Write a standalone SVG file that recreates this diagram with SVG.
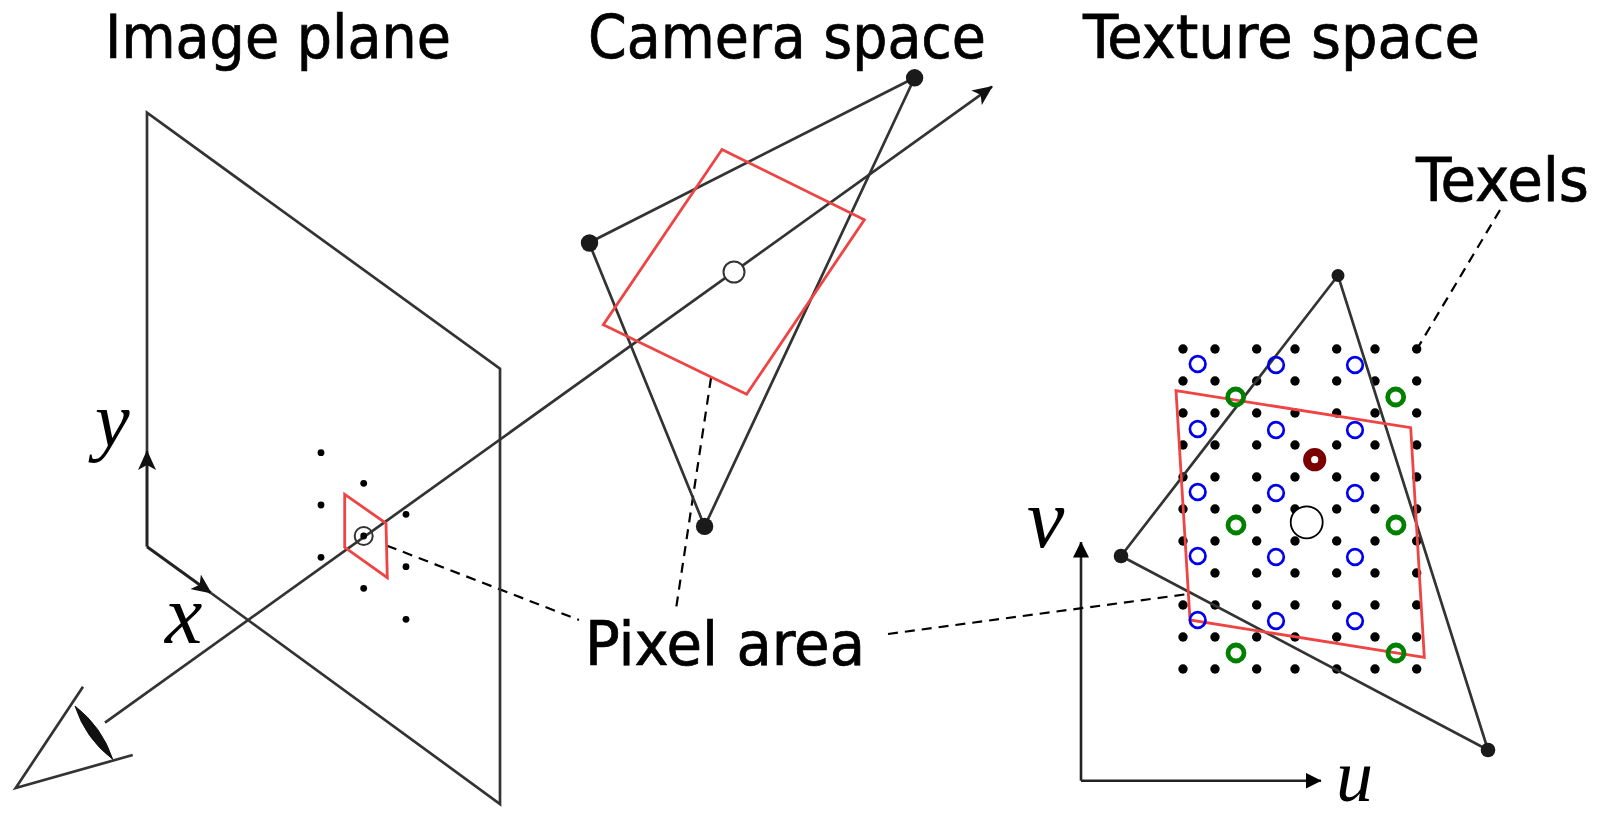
<svg xmlns="http://www.w3.org/2000/svg" width="1606" height="817" viewBox="0 0 1606 817">
<style>
.t{font-family:"DejaVu Sans Condensed","DejaVu Sans",sans-serif;font-size:61px;fill:#000;stroke:#000;stroke-width:.7}
.m{font-family:"Liberation Serif",serif;font-style:italic;font-size:84px;fill:#000}
.l{fill:none;stroke:#333;stroke-width:2.700}
.ax{fill:none;stroke:#222;stroke-width:3}
.uv{fill:none;stroke:#222;stroke-width:2.600}
.r{fill:none;stroke:#ee4444;stroke-width:2.800}
.d{fill:none;stroke:#000;stroke-width:2.200;stroke-dasharray:10 7}
.b{fill:none;stroke:#0000ee;stroke-width:2.700}
.g{fill:none;stroke:#008000;stroke-width:4.800}
.tx{fill:#000}
.v{fill:#1a1a1a}
</style>
<defs>
<marker id="a" viewBox="0 0 20 18" refX="19" refY="9" markerWidth="20" markerHeight="18" markerUnits="userSpaceOnUse" orient="auto"><path d="M0 0L20 9L0 18L5 9Z" fill="#111"/></marker>
<marker id="s" viewBox="0 0 16 16" refX="15.500" refY="8" markerWidth="16" markerHeight="16" markerUnits="userSpaceOnUse" orient="auto"><path d="M0 0L16 8L0 16Z" fill="#000"/></marker>
</defs>
<rect width="1606" height="817" fill="#fff"/>
<g id="labels">
<text class="t" x="105" y="57.500" textLength="346" lengthAdjust="spacingAndGlyphs">Image plane</text>
<text class="t" x="588" y="57.500" textLength="398" lengthAdjust="spacingAndGlyphs">Camera space</text>
<text class="t" x="1083" y="57.500" textLength="397" lengthAdjust="spacingAndGlyphs">Texture space</text>
<text class="t" x="1416" y="201" textLength="173" lengthAdjust="spacingAndGlyphs">Texels</text>
<text class="t" x="585" y="665" textLength="280" lengthAdjust="spacingAndGlyphs">Pixel area</text>
<text class="m" x="95" y="446" style="font-size:78px">y</text>
<text class="m" x="165" y="643">x</text>
<text class="m" x="1027" y="547">v</text>
<text class="m" x="1336" y="800.500" style="font-size:74px">u</text>
</g>
<g id="connectors">
<path class="ax" d="M147 546.700V451" marker-end="url(#a)"/>
<path class="ax" d="M147 546.700L211 593" marker-end="url(#a)"/>
<path class="l" d="M105 722.700L992 86.700" marker-end="url(#a)"/>
<path class="uv" d="M1081 780.700V542" marker-end="url(#s)"/>
<path class="uv" d="M1081 780.700H1321" marker-end="url(#s)"/>
<path class="d" d="M387 545.700L579 620"/>
<path class="d" d="M711 378L676 609"/>
<path class="d" d="M888 634L1188 594"/>
<path class="d" d="M1500 210L1417 349"/>
</g>
<g id="image-plane">
<path class="l" d="M147 451V112.700L500 368.700V804L211 593"/>
<g class="tx">
<circle cx="321" cy="452.700" r="3.400"/><circle cx="321" cy="505" r="3.400"/><circle cx="321" cy="557.300" r="3.400"/>
<circle cx="363.700" cy="483.300" r="3.400"/><circle cx="363.700" cy="536" r="3.400"/><circle cx="363.700" cy="588.300" r="3.400"/>
<circle cx="406" cy="514.300" r="3.400"/><circle cx="406" cy="566.700" r="3.400"/><circle cx="406" cy="619.300" r="3.400"/>
</g>
<path class="r" d="M344.700 494.300L386 523.300L387.300 577.700L344.700 547.300Z"/>
<circle cx="363.700" cy="536" r="9" fill="none" stroke="#333" stroke-width="2"/>
</g>
<g id="eye">
<path class="l" d="M83 686.700L15.700 788L132.700 755"/>
<path d="M75 706Q102 727 112.700 759.300Q85.500 738.500 75 706Z" fill="#111" stroke="#111"/>
</g>
<g id="camera-space">
<path class="l" d="M914.600 77.800L589 242.700L704.600 526.400Z"/>
<circle class="v" cx="914.600" cy="77.800" r="8.700"/><circle class="v" cx="589.500" cy="243" r="8.700"/><circle class="v" cx="704.600" cy="526.400" r="8.700"/>
<path class="r" d="M722 149.500L864.400 219.700L746.600 394.300L603.300 324.700Z"/>
<circle cx="734" cy="272" r="10.500" fill="#fff" stroke="#333" stroke-width="2"/>
</g>
<g id="texture-space">
<g class="tx">
<circle cx="1183" cy="349" r="4.700"/><circle cx="1215" cy="349" r="4.700"/><circle cx="1256.700" cy="349" r="4.700"/><circle cx="1295" cy="349" r="4.700"/><circle cx="1336.700" cy="349" r="4.700"/><circle cx="1375" cy="349" r="4.700"/><circle cx="1416.700" cy="349" r="4.700"/>
<circle cx="1183" cy="381" r="4.700"/><circle cx="1215" cy="381" r="4.700"/><circle cx="1256.700" cy="381" r="4.700"/><circle cx="1295" cy="381" r="4.700"/><circle cx="1336.700" cy="381" r="4.700"/><circle cx="1375" cy="381" r="4.700"/><circle cx="1416.700" cy="381" r="4.700"/>
<circle cx="1183" cy="413" r="4.700"/><circle cx="1215" cy="413" r="4.700"/><circle cx="1256.700" cy="413" r="4.700"/><circle cx="1295" cy="413" r="4.700"/><circle cx="1336.700" cy="413" r="4.700"/><circle cx="1375" cy="413" r="4.700"/><circle cx="1416.700" cy="413" r="4.700"/>
<circle cx="1183" cy="445" r="4.700"/><circle cx="1215" cy="445" r="4.700"/><circle cx="1256.700" cy="445" r="4.700"/><circle cx="1295" cy="445" r="4.700"/><circle cx="1336.700" cy="445" r="4.700"/><circle cx="1375" cy="445" r="4.700"/><circle cx="1416.700" cy="445" r="4.700"/>
<circle cx="1183" cy="477" r="4.700"/><circle cx="1215" cy="477" r="4.700"/><circle cx="1256.700" cy="477" r="4.700"/><circle cx="1295" cy="477" r="4.700"/><circle cx="1336.700" cy="477" r="4.700"/><circle cx="1375" cy="477" r="4.700"/><circle cx="1416.700" cy="477" r="4.700"/>
<circle cx="1183" cy="509" r="4.700"/><circle cx="1215" cy="509" r="4.700"/><circle cx="1256.700" cy="509" r="4.700"/><circle cx="1295" cy="509" r="4.700"/><circle cx="1336.700" cy="509" r="4.700"/><circle cx="1375" cy="509" r="4.700"/><circle cx="1416.700" cy="509" r="4.700"/>
<circle cx="1183" cy="541" r="4.700"/><circle cx="1215" cy="541" r="4.700"/><circle cx="1256.700" cy="541" r="4.700"/><circle cx="1295" cy="541" r="4.700"/><circle cx="1336.700" cy="541" r="4.700"/><circle cx="1375" cy="541" r="4.700"/><circle cx="1416.700" cy="541" r="4.700"/>
<circle cx="1215" cy="573" r="4.700"/><circle cx="1256.700" cy="573" r="4.700"/><circle cx="1295" cy="573" r="4.700"/><circle cx="1336.700" cy="573" r="4.700"/><circle cx="1375" cy="573" r="4.700"/><circle cx="1416.700" cy="573" r="4.700"/>
<circle cx="1183" cy="605" r="4.700"/><circle cx="1215" cy="605" r="4.700"/><circle cx="1256.700" cy="605" r="4.700"/><circle cx="1295" cy="605" r="4.700"/><circle cx="1336.700" cy="605" r="4.700"/><circle cx="1375" cy="605" r="4.700"/><circle cx="1416.700" cy="605" r="4.700"/>
<circle cx="1183" cy="637" r="4.700"/><circle cx="1215" cy="637" r="4.700"/><circle cx="1256.700" cy="637" r="4.700"/><circle cx="1295" cy="637" r="4.700"/><circle cx="1336.700" cy="637" r="4.700"/><circle cx="1375" cy="637" r="4.700"/><circle cx="1416.700" cy="637" r="4.700"/>
<circle cx="1183" cy="669" r="4.700"/><circle cx="1215" cy="669" r="4.700"/><circle cx="1256.700" cy="669" r="4.700"/><circle cx="1295" cy="669" r="4.700"/><circle cx="1336.700" cy="669" r="4.700"/><circle cx="1375" cy="669" r="4.700"/><circle cx="1416.700" cy="669" r="4.700"/>
</g>
<path class="l" d="M1338 275.500L1121 556L1488 750Z"/>
<circle class="v" cx="1338" cy="275.500" r="6.500"/><circle class="v" cx="1121" cy="556" r="7.300"/><circle class="v" cx="1488" cy="750" r="7.300"/>
<path class="r" d="M1176 390.700L1410.700 427.700L1424.300 657.300L1190 620Z"/>
<g class="b">
<circle cx="1197.700" cy="364" r="7.800"/><circle cx="1276" cy="365" r="7.800"/><circle cx="1355" cy="365" r="7.800"/>
<circle cx="1197.700" cy="429" r="7.800"/><circle cx="1276" cy="430" r="7.800"/><circle cx="1355" cy="430" r="7.800"/>
<circle cx="1197.700" cy="492" r="7.800"/><circle cx="1276" cy="493" r="7.800"/><circle cx="1355" cy="493" r="7.800"/>
<circle cx="1197.700" cy="556" r="7.800"/><circle cx="1276" cy="557" r="7.800"/><circle cx="1355" cy="557" r="7.800"/>
<circle cx="1197.700" cy="620" r="7.800"/><circle cx="1276" cy="621" r="7.800"/><circle cx="1355" cy="621" r="7.800"/>
</g>
<g class="g">
<circle cx="1235.700" cy="397" r="8"/><circle cx="1395.700" cy="397" r="8"/>
<circle cx="1236" cy="525" r="8"/><circle cx="1396" cy="525" r="8"/>
<circle cx="1236" cy="653" r="8"/><circle cx="1396" cy="653" r="8"/>
</g>
<circle cx="1314.700" cy="459.700" r="7.600" fill="none" stroke="#7b0000" stroke-width="8"/>
<circle cx="1306.700" cy="522.300" r="16" fill="#fff" stroke="#000" stroke-width="1.800"/>
</g>
</svg>
